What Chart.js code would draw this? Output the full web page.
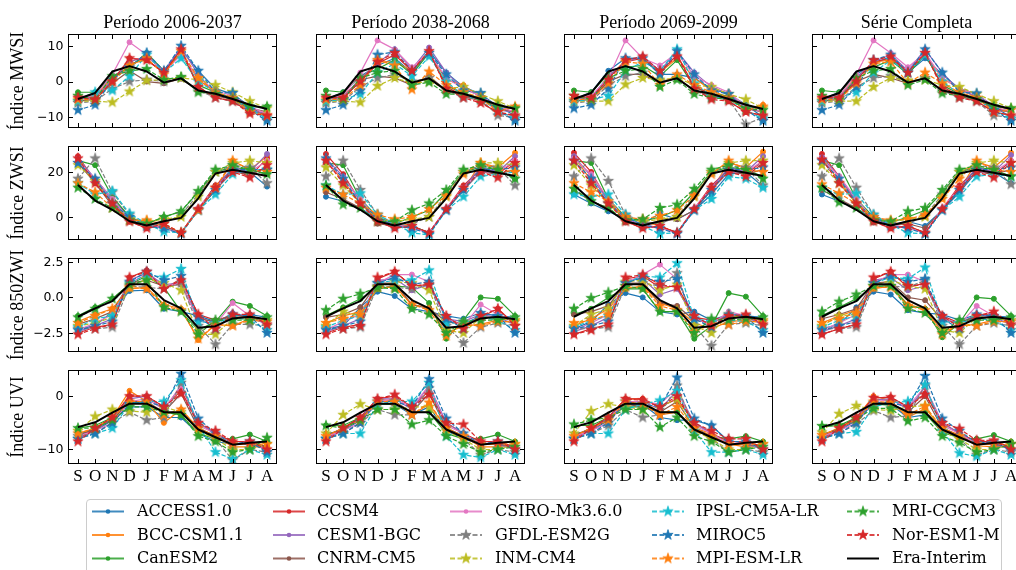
<!DOCTYPE html>
<html><head><meta charset="utf-8">
<script src="https://cdn.jsdelivr.net/npm/chart.js@4.4.1/dist/chart.umd.min.js"></script>
<style>
html,body{margin:0;padding:0;width:1016px;height:570px;overflow:hidden;background:#fff;position:relative;}
canvas.p{position:absolute;left:0;top:0;}
.ttl{position:absolute;width:300px;text-align:center;font-family:"Liberation Serif","Times New Roman",serif;font-size:18px;line-height:18px;color:#000;white-space:nowrap;}
.yl{position:absolute;width:200px;text-align:center;font-family:"Liberation Serif","Times New Roman",serif;font-size:18px;line-height:18px;color:#000;white-space:nowrap;transform:rotate(-90deg);transform-origin:50% 50%;}
#legbox{position:absolute;left:86px;top:499px;width:916px;height:90px;border:1px solid #cccccc;border-radius:4px;background:rgba(255,255,255,0.8);box-sizing:border-box;}
.lt{position:absolute;font-family:"DejaVu Serif",serif;font-size:16px;line-height:18px;color:#000;white-space:nowrap;}
</style></head><body>
<script>
// ---------------- DATA ----------------
const MONTHS = ['S','O','N','D','J','F','M','A','M','J','J','A'];
const TITLES = ['Período 2006-2037','Período 2038-2068','Período 2069-2099','Série Completa'];
const YLABELS = ['Índice MWSI','Índice ZWSI','Índice 850ZWI','Índice UVI'];
const MODELS = ['ACCESS1.0','BCC-CSM1.1','CanESM2','CCSM4','CESM1-BGC','CNRM-CM5','CSIRO-Mk3.6.0','GFDL-ESM2G','INM-CM4','IPSL-CM5A-LR','MIROC5','MPI-ESM-LR','MRI-CGCM3','Nor-ESM1-M'];
const OBS_NAME = 'Era-Interim';

const YTICKS_MWSI = [-10, 0, 10];
const YTICKS_ZWSI = [0, 20];
const YTICKS_850 = [-2.5, 0, 2.5];
const YTICKS_UVI = [-10, 0];
const YTICKLABELS_MWSI = ['\u221210', '0', '10'];
const YTICKLABELS_ZWSI = ['0', '20'];
const YTICKLABELS_850 = ['\u22122.5', '0.0', '2.5'];
const YTICKLABELS_UVI = ['\u221210', '0'];
const YRANGE_MWSI = [-12.85, 13.15];
const YRANGE_ZWSI = [-10, 31.3];
const YRANGE_850 = [-3.8, 2.73];
const YRANGE_UVI = [-12.63, 4.82];

const ERA_MWSI = [-4.9,-3.2,2.8,4.3,2.8,-0.3,0.9,-2.5,-3.4,-4.9,-6.5,-7.7];
const ERA_ZWSI = [14.2,7.3,3.2,-1.9,-3.8,-1.9,-0.4,8.3,19.3,21,19.6,18.2];
const ERA_850 = [-1.36,-0.77,-0.26,0.92,0.92,-0.19,-0.77,-2.14,-2.02,-1.48,-1.36,-1.53];
const ERA_UVI = [-5.8,-4.9,-3.1,-1.4,-1.4,-3.0,-3.0,-6.25,-7.7,-9.1,-8.75,-8.5];

const MWSI_P1 = [
[-5,-3,1,4,7.5,3,9,3,-2,-3.5,-7,-10],
[-4.5,-4,1,5,6,2.5,8,0.5,-3,-5,-8,-9],
[-3,-3,1.5,4,8,3,8,-1,-3,-4.5,-7,-7],
[-4,-4.5,0,6.5,6,2.5,9,-1.5,-4.5,-5.5,-8.5,-9],
[-5,-4.5,0.5,5.5,7,3,9.5,2,-3.5,-4.5,-8,-9],
[-5.5,-5,-0.5,3,0,-0.5,0.8,-2.5,-4,-5,-7.5,-8.5],
[-4.5,-4,2,11,7.5,2.5,7.5,1,-2.5,-4,-7,-9],
[-6,-5.5,-2,0,0.5,0,1,-2.5,-4.5,-5.5,-8,-10],
[-5.5,-5.5,-5.8,-2.8,0.3,0.5,1,0.5,-1,-3,-5.5,-7.5],
[-5.5,-3,-2.5,1.5,7.5,2.5,6.5,0,-3,-5,-7.5,-10.5],
[-8,-6.5,0.5,4,8,3,10,3,-3,-3.2,-8,-11],
[-5,-5,0,4.5,6.5,2,8.5,1,-3,-4.5,-8.5,-9.5],
[-4,-5,1.5,3,3.5,0.5,1.3,-3,-3.5,-5,-7,-7],
[-4.5,-5,0,6.5,6,2.5,9,-1.5,-4.5,-5.5,-9,-9.5]];
const MWSI_P2 = [
[-5,-3,1.5,4.5,6.5,2.5,8.5,2.5,-1.5,-3.5,-7,-9.5],
[-4.5,-4,0.5,5.5,5.5,3,8,0.5,-1,-4.5,-8,-7],
[-2.5,-3,1.5,3.5,6,2,8,-1,-3.5,-4.5,-7,-7.5],
[-4.5,-4.5,0,5,7.5,3,8.5,-1.5,-4,-5.5,-9,-9.5],
[-5,-4.5,1,5,9,3.5,9.5,2.5,-2,-4,-8,-8.5],
[-5.5,-5,0.5,1.5,1,-1,1.5,-2.5,-4,-5,-7.5,-8.5],
[-4.5,-4,2.5,11.5,9,4,8,1,-2,-4,-7,-8.5],
[-6,-5.5,-1.5,1,2,0,1,-2.5,-4.5,-5,-9.5,-10],
[-5.5,-5.5,-5.8,-1.2,1,-0.5,0,-2,-1.5,-3.5,-5.5,-7.5],
[-5.5,-5,-3.5,2.5,5,1.5,7,0,-4,-5,-8,-10.5],
[-8,-6.5,-2.5,7.5,8.3,3,8,2,-2.5,-3.2,-8,-11],
[-5,-5,-1,6,4.5,-2.2,2.8,-1,-3,-4.5,-8.5,-7],
[-4,-5,1,2.5,3,-1,-0.2,-3.5,-3.5,-5,-7,-7.5],
[-4.5,-4.5,0,5.5,8,3,8.5,-2,-4.5,-6,-8.5,-9.5]];
const MWSI_P3 = [
[-5,-3,3,6.5,6.5,2,2,1,-2,-3.5,-6.5,-10],
[-4.5,-4.5,1,6,6.5,2.5,6.5,1,-2.5,-4.5,-8,-6.5],
[-2.5,-3,2,4,4.5,1.5,6,-1.5,-3.5,-4,-7,-7.5],
[-4,-4.5,1,5.5,6.5,2.5,7.5,-1.5,-3.5,-5.5,-8.5,-9.5],
[-5,-4.5,1.5,5.5,7,3,8.5,2.5,-1.5,-3.5,-7.5,-8.5],
[-5.5,-5,0,2,2,-0.5,1,-2.5,-4,-5,-7.5,-8.5],
[-4.5,-4,1,11.5,6.5,4.5,8,1.5,-1,-3,-7,-8.5],
[-6,-5.5,-1,1.5,2.5,0,1,-2.5,-4.5,-5,-12,-10],
[-5.5,-5.5,-5.5,-0.8,1,0.5,1,-1,-1.5,-3.5,-5,-7.5],
[-5.5,-5,-4,3,5.5,3,9,-0.5,-4,-5,-8,-10.5],
[-7.5,-6.5,-2,6.5,6.5,2,8.5,2,-2.5,-3.5,-8,-11],
[-5,-5,-0.5,5.5,5,-1,2,-1,-3,-4.5,-8,-7],
[-4,-5,1,3,3.5,-1.5,0.5,-3.5,-4.5,-5,-7.5,-8],
[-4,-4.5,0.5,6,7,3,7,-2,-5,-5.5,-8.5,-9.5]];
const MWSI_ALL = [
[-5,-3,2,5,7,2.5,6.5,2,-2,-3.5,-7,-10],
[-4.5,-4,1,5.5,6,2.5,7.5,1,-2,-4.5,-8,-7.5],
[-2.5,-3,1.5,4,6,2,7.5,-1,-3.5,-4.5,-7,-7.5],
[-4,-4.5,0.5,5.5,6.5,2.5,8.5,-1.5,-4,-5.5,-8.5,-9.5],
[-5,-4.5,1,5.5,7.5,3,9,2.5,-2.5,-4,-8,-8.5],
[-5.5,-5,0,2,1,-0.5,1,-2.5,-4,-5,-7.5,-8.5],
[-4.5,-4,2,11.5,8,4,8,1,-2,-3.5,-7,-8.5],
[-6,-5.5,-1.5,1,1.5,0,1,-2.5,-4.5,-5.5,-9.5,-10],
[-5.5,-5.5,-5.5,-1.5,1,0.3,0.5,-1,-1.5,-3.5,-5.5,-7.5],
[-5.5,-4.5,-3,2.5,6,2.5,7.5,0,-3.5,-5,-8,-10.5],
[-8,-6.5,-1.5,6,7.5,2.5,9,2.5,-3,-3.3,-8,-11],
[-5,-5,-0.5,5,5.5,-0.5,2.5,-0.5,-3,-4.5,-8.5,-8],
[-4,-5,1,3,3.5,-1,0.5,-3.3,-4,-5,-7,-7.5],
[-4.5,-4.5,0,6,7,2.5,8,-2,-4.5,-5.5,-8.5,-9.5]];

const ZWSI_P1 = [
[24,17,8,0,-4,-5,-7,3,14,20,20,13.5],
[26,16,6,-1,-2,-4,-7,4,12,25,21,27],
[25,23,9,0,-3,0,2.5,11,20,22,21,19],
[27,16,6,-2,-5,-4,-7,3.5,14,21,18,26],
[26,17,7,-1,-4,-5,-7,3,13,22,20,28],
[24,15,5,-2,-4,-4,-7,3,12,20,19,22],
[25,17,8,-1,-3,-5,-7,4,13,20,20,25],
[17,26,11,1,-4,-3,1,10,20,23,22,15],
[23,16,6,-1,-2,-1,0,9,20,24,25,24],
[15,10,11.5,1.5,-3,-6.5,-7,3,10,19,21,21],
[24,17,6,0,-4,-5,-7.5,3,12,21,21,21],
[15,11,4,-1.5,-1.5,-3,-7,3,13,25,21,20],
[13,8,4,-1.5,-3,0,2.5,11.5,21,23,21,19],
[26,15,6,-2,-5,-3,-7,3.5,13,20,17.5,23]];
const ZWSI_P2 = [
[9,7,4,-1,-4,-4,-7,3,12,20,21,17],
[25,16,6,-1,-2,-4,-7,3.5,12,24,22,28.5],
[24,23,8,0,-3,0,3,11,20,22,21,17],
[28,19,7,-2,-5,-4,-7,3.5,14,21,19,25],
[26,18,7,-1,-4,-5,-7,3,13,22,20,27],
[11,8,4,-3,-4,-4,-7,3,12,20,19,21],
[25,17,8,-1,-3,-5,-7,4,13,20,20,25],
[18,25,12,1,-3,-3,0,10,20,23,22,14],
[22,14,6,-1,-2,-1,0,9,20,24,24,23],
[14,10,10.5,1,-3,-7,-8,3,9,18,19,20],
[26,17,6,0,-4,-5,-7.5,3,12,21,21,22],
[13,10,6,1,-1,0,3.5,9.5,19,24,21,20],
[14,5.5,4,-2,-2,3,6,12,21,23,21,17],
[25,15,6,-2,-5,-4,-7,3.5,13,20,17.5,24]];
const ZWSI_P3 = [
[10,6,2.5,-1,-3,1.5,-1,3,10,19,20,13.5],
[27,16,6,-1,-2,-4,-7,3.5,12,24,22,29],
[25,24,8,0,-2,0,3,11,20,22,21,18],
[28.5,20,7,-2,-5,-4,-7,3.5,14,21,19,25],
[27,18,7,-1,-4,-5,-7,3,13,22,20,27],
[12,7,4,-2.5,-3,-2,-1,3,12,20,19,21],
[26,19,8,-1,-3,-5,-7,4,13,20,20,25],
[18,26,16,1,-2,-3,0,10,20,23,22,14],
[23,14,6,-1,-2,-1,0,9,20,24,25,25],
[10,9,10,1,-4,-7.5,-7,3,8,18,17,13],
[25,17,6,0,-3.5,-5,-7.5,3,12,21,21,22],
[15,11,7,0,-1,0.5,3,9.5,19,25,21,20],
[12.5,7,4,-1.5,-1,4,5.5,12.5,21,23,21,17],
[25,15,6,-2,-5,-4,-7,3.5,13,20,18,24]];
const ZWSI_ALL = [
[10,7,4,-1,-3.5,-2,-4,3,11,20,20,15],
[26,16,6,-1,-2,-4,-7,3.5,12,24.5,22,28.5],
[25,23,8,0,-2.5,0,3,11,20,22,21,18],
[28,18,6.5,-2,-5,-4,-7,3.5,14,21,18.5,25],
[26.5,18,7,-1,-4,-5,-7,3,13,22,20,27.5],
[12,8,4,-2.5,-3.5,-3,-5,3,12,20,19,21],
[25.5,18,8,-1,-3,-5,-7,4,13,20,20,25],
[18,26,13,1,-3,-3,0.5,10,20,23,22,14.5],
[23,15,6,-1,-2,-1,0,9,20,24,25,24],
[13,10,10.5,1,-3.5,-7,-7.5,3,9,18,19,18],
[25,17,6,0,-4,-5,-7.5,3,12,21,21,22],
[14.5,10.5,6,0,-1.5,-1,1,8,17,25,21,20],
[13,6.5,4,-1.5,-2,2.5,4,12,21,23,21,18],
[25.5,15,6,-2,-5,-4,-7,3.5,13,20,17.5,24]];

const Z850_P1 = [
[-2.2,-2.0,-1.0,0.45,0.5,-0.8,-1.0,-1.3,-1.7,-1.3,-1.2,-1.4],
[-1.7,-1.2,-0.8,0.6,0.7,-0.5,-0.8,-3.0,-1.9,-2.0,-1.5,-1.8],
[-1.3,-0.7,-0.1,0.9,1.5,0.7,-1.0,-2.3,-1.7,-0.3,-0.6,-1.3],
[-2.5,-2.1,-1.9,1.4,1.9,0.6,1.3,-1.2,-1.6,-1.3,-1.3,-1.8],
[-2.4,-2.0,-1.5,1.2,1.7,0.9,1.0,-1.4,-1.8,-1.1,-1.4,-1.9],
[-1.9,-1.5,-1.0,1.0,1.2,0.8,0.9,-1.5,-1.7,-1.2,-1.4,-1.6],
[-2.3,-1.8,-1.2,1.0,1.6,0.8,1.0,-1.6,-1.9,-0.4,-1.3,-1.7],
[-2.2,-2.2,-2.1,0.8,0.7,0.6,1.0,-2.0,-3.3,-1.9,-1.9,-2.0],
[-2.0,-1.8,-1.4,0.7,1.3,1.0,0.5,-2.6,-2.6,-1.5,-1.5,-1.6],
[-2.1,-1.5,-1.3,1.0,1.6,1.4,2.0,-1.7,-1.8,-1.4,-1.6,-2.3],
[-2.3,-2.0,-1.7,1.1,1.8,1.2,1.5,-1.4,-2.2,-1.2,-1.3,-2.5],
[-1.8,-1.3,-0.8,0.7,0.6,-0.6,-0.9,-2.9,-1.9,-2.0,-1.6,-1.7],
[-1.4,-0.8,-0.1,0.9,1.2,-0.7,-1.0,-2.6,-1.6,-1.6,-1.6,-1.4],
[-2.6,-2.2,-1.9,1.4,1.8,0.6,1.2,-1.2,-2.2,-1.2,-1.2,-1.9]];
const Z850_P2 = [
[-2.2,-2.0,-0.7,0.4,0.1,-0.8,-1.0,-1.3,-1.5,-1.1,-1.3,-1.4],
[-1.8,-1.3,-1.0,0.6,0.8,-0.5,-0.7,-2.5,-2.0,-1.9,-1.6,-1.8],
[-1.3,-0.7,-0.1,0.6,0.8,0.7,-0.4,-2.9,-1.6,0.0,-0.1,-1.3],
[-2.5,-2.1,-1.9,1.3,1.8,0.8,0.9,-1.4,-2.0,-1.4,-0.8,-1.9],
[-2.4,-2.0,-1.5,1.2,1.3,0.5,0.9,-1.5,-1.7,-1.2,-1.4,-1.9],
[-1.4,-1.2,-0.7,1.0,1.0,-0.5,-0.8,-1.7,-1.9,-1.3,-1.5,-1.6],
[-2.3,-1.7,-1.2,1.0,1.6,1.6,1.1,-1.5,-2.0,-0.5,-1.2,-1.7],
[-2.2,-2.2,-2.1,0.8,0.7,0.6,0.9,-2.0,-3.2,-2.1,-1.8,-2.0],
[-2.0,-1.0,-1.3,0.7,1.1,1.0,0.5,-2.3,-2.5,-1.4,-1.5,-1.6],
[-2.1,-1.6,-1.3,1.0,1.2,1.2,1.9,-1.8,-1.8,-1.4,-1.6,-2.3],
[-2.3,-2.0,-1.7,1.0,1.4,0.9,1.1,-1.5,-2.2,-1.1,-1.3,-2.5],
[-1.8,-1.5,-1.2,0.7,0.7,-0.5,-0.9,-2.7,-1.9,-2.0,-1.7,-1.7],
[-0.9,-0.1,0.25,0.7,0.6,-0.8,-1.2,-2.5,-1.7,-1.6,-1.6,-1.4],
[-2.6,-2.2,-2.0,1.4,1.8,0.8,0.9,-1.3,-2.2,-1.3,-0.8,-2.0]];
const Z850_P3 = [
[-2.2,-1.7,-0.5,0.3,0.0,-1.0,-1.2,-1.0,-1.6,-1.2,-1.3,-1.4],
[-2.0,-1.5,-0.8,0.6,0.8,-0.4,-0.8,-1.8,-2.2,-1.7,-1.6,-1.8],
[-1.2,-0.8,0.0,0.6,0.6,-1.0,-1.0,-2.9,-2.0,0.3,0.05,-1.3],
[-2.6,-2.2,-1.9,1.3,1.5,0.7,0.8,-1.4,-1.6,-1.3,-1.3,-1.9],
[-2.4,-2.0,-1.4,1.2,1.3,0.2,0.6,-1.5,-1.8,-1.2,-1.4,-1.9],
[-1.2,-1.0,-0.6,1.0,1.0,-0.4,-0.6,-1.6,-1.8,-1.3,-1.5,-1.6],
[-2.3,-1.8,-1.2,1.0,1.6,2.3,1.3,-1.5,-1.9,-1.0,-1.3,-1.7],
[-2.2,-2.2,-2.1,0.8,1.0,0.8,1.7,-2.0,-3.4,-1.9,-1.8,-2.0],
[-2.0,-1.2,-0.8,1.1,1.2,0.5,0.9,-2.0,-2.5,-1.2,-1.5,-1.6],
[-2.1,-1.6,-1.3,1.0,1.5,1.4,2.4,-1.5,-1.7,-1.6,-1.7,-2.3],
[-2.2,-2.0,-1.7,1.0,1.4,1.1,1.3,-1.5,-2.1,-1.2,-1.3,-2.5],
[-1.8,-1.6,-1.2,0.7,0.7,-0.6,-0.9,-2.4,-1.9,-1.9,-1.7,-1.7],
[-0.8,-0.05,0.35,0.8,0.6,-1.0,-1.0,-2.5,-1.5,-1.6,-1.5,-1.4],
[-2.6,-2.3,-1.9,1.4,1.6,0.9,0.7,-1.3,-2.0,-1.3,-1.2,-1.9]];
const Z850_ALL = [
[-2.2,-1.9,-0.7,0.4,0.2,-0.9,-1.1,-1.2,-1.6,-1.2,-1.3,-1.4],
[-1.8,-1.3,-0.9,0.6,0.8,-0.5,-0.8,-2.4,-2.0,-1.9,-1.6,-1.8],
[-1.3,-0.7,-0.1,0.7,0.9,-0.6,-0.8,-2.8,-1.8,0.0,-0.1,-1.3],
[-2.6,-2.2,-1.9,1.3,1.8,0.7,1.0,-1.3,-1.8,-1.3,-1.1,-1.9],
[-2.4,-2.0,-1.5,1.2,1.4,0.5,0.8,-1.5,-1.8,-1.2,-1.4,-1.9],
[-1.5,-1.2,-0.8,1.0,1.1,0.0,-0.2,-1.6,-1.8,-1.3,-1.5,-1.6],
[-2.3,-1.8,-1.2,1.0,1.6,1.6,1.1,-1.5,-1.9,-0.6,-1.3,-1.7],
[-2.2,-2.2,-2.1,0.8,0.8,0.7,1.2,-2.0,-3.3,-2.0,-1.8,-2.0],
[-2.0,-1.3,-1.2,0.8,1.2,0.8,0.6,-2.3,-2.5,-1.4,-1.5,-1.6],
[-2.1,-1.6,-1.3,1.0,1.4,1.3,2.1,-1.7,-1.8,-1.5,-1.6,-2.3],
[-2.3,-2.0,-1.7,1.0,1.5,1.1,1.3,-1.5,-2.2,-1.2,-1.3,-2.5],
[-1.8,-1.5,-1.1,0.7,0.7,-0.6,-0.9,-2.6,-1.9,-2.0,-1.7,-1.7],
[-1.0,-0.3,0.2,0.8,0.8,-0.8,-1.1,-2.5,-1.6,-1.6,-1.6,-1.4],
[-2.6,-2.2,-1.9,1.4,1.8,0.8,0.9,-1.3,-2.1,-1.3,-1.0,-1.9]];

const UVI_P1 = [
[-7,-6.5,-4.5,-2,-2,-4,-4,-7,-8.5,-9,-9,-10],
[-7,-6,-4,1,-1,-5,-2.5,-6,-7.5,-9.5,-9.5,-9.5],
[-6,-5.5,-4,-1,-1.5,-3,-3.5,-7,-8,-8,-7.2,-8.5],
[-8,-6,-4,0,0,-2,1,-5,-7,-8.5,-8.5,-9.5],
[-8,-6.5,-4,-0.5,0,-2.5,2,-5,-7,-9,-9,-10],
[-7.5,-6,-4.5,-1,-1,-3,0.5,-6,-7.5,-9,-9,-9.5],
[-7.5,-6.5,-5,-1,-0.5,-2.5,2,-5.5,-7,-9,-8.5,-10],
[-7.5,-7,-5,-3,-4.5,-4,2.5,-6,-8,-12,-10,-10.5],
[-6.5,-3.8,-2.5,-2.8,-3,-2,-3,-6.5,-8,-10,-10,-9],
[-8,-7,-6,-1.5,-1,-1,3,-5.5,-10.5,-11.8,-10,-11],
[-8,-7,-5,-1.5,-1,-2,4.2,-4.2,-7,-9,-8.5,-10.5],
[-7,-6,-4,-1,-1,-3.5,-2.5,-6,-7.5,-9,-9,-9],
[-6,-6,-4.5,-2,-2,-3,-3.5,-7.5,-8.5,-10.5,-10,-7.8],
[-8.5,-6,-4,0,0,-2,0.5,-5,-6.5,-8.5,-8.5,-10]];
const UVI_P2 = [
[-7,-6.5,-4.5,-1.5,-1.5,-3.5,-2,-6.5,-8,-9,-9,-9.5],
[-7.5,-6,-4,-0.5,-1,-3.5,-1.5,-6,-7.5,-9.5,-9.5,-9.5],
[-5.5,-5.5,-4,-1.5,-1.5,-3,-3,-7,-8,-8,-7.2,-8.5],
[-8,-6,-4,-0.5,0,-2,1,-5,-7,-8.5,-8.5,-9.5],
[-8,-6.5,-4,-0.5,-0.5,-2.5,2,-5,-7,-9,-9,-10],
[-7.5,-6,-4.5,-1,-1,-3,0.5,-6,-7.5,-9,-9,-9.5],
[-7.5,-6.5,-5,-1,-0.5,-2,2,-5.5,-7,-9,-8.5,-10],
[-8,-7,-5,-2.5,-3.5,-3.5,1.5,-6,-8,-11,-10,-10.5],
[-7,-3.5,-1.5,-2.5,-2.5,-2,-2,-6.5,-8,-10,-10,-9],
[-8,-7,-7,-1.5,-1,-1,2.5,-7.5,-11,-11.5,-10,-11],
[-8,-7,-5,-1,-1,-2,3.2,-4.2,-7,-9,-8.5,-10],
[-7.5,-6,-4.5,-1,-1,-3.5,-1.2,-6,-7.5,-9,-9,-9],
[-5.5,-6,-4.5,-2.5,-2.5,-5.3,-4.5,-7.5,-9,-10.5,-10,-9.5],
[-8.5,-6,-4,-0.5,0.3,-2,0.3,-5,-5.3,-8.5,-8.5,-10]];
const UVI_P3 = [
[-7,-6.5,-4.5,-1.5,-1.5,-4,-4.5,-4.5,-5.5,-8.5,-8.5,-9.5],
[-7.5,-6,-4,-0.5,-0.5,-3.5,-3,-6,-7,-9,-9.5,-9],
[-5.5,-5.5,-4,-2,-2,-3,-3,-6.5,-7.5,-8,-7.5,-8.5],
[-8,-6,-4,-0.5,-0.5,-2,-0.5,-5,-7,-8.5,-8.5,-9.5],
[-8,-6.5,-4,-1,-1,-2.5,1,-5,-7,-9,-9,-10],
[-7.5,-6,-4.5,-1.5,-2,-3,-1,-6,-7.5,-9,-9,-9.5],
[-7.5,-6.5,-5,-1,-1,-1.5,1.5,-5.5,-7,-9,-8.5,-10],
[-8,-7,-5.5,-2.5,-4,-3.5,2,-6,-8,-10.5,-10,-10.5],
[-7,-2.8,-1.5,-2,-2.5,-2,-0.5,-6.5,-8,-10,-10,-9],
[-8,-7,-7,-2.5,-1.5,-0.8,1,-6.5,-10.5,-10.5,-10,-11],
[-8,-7,-5,-1,-1.5,-2,3.5,-4.2,-5.5,-8.5,-8.5,-10],
[-7.5,-6,-4.5,-1,-1.5,-3.5,-2,-6,-7.5,-9,-9,-9],
[-5.3,-4.5,-4,-2.5,-2.5,-5.8,-4,-7.5,-8.5,-10.5,-10,-9.5],
[-8.5,-6,-4,-0.5,-0.8,-2,0,-5,-6.5,-8,-8,-10]];
const UVI_ALL = [
[-7,-6.5,-4.5,-1.5,-1.5,-4,-3.5,-6,-7.5,-9,-9,-9.5],
[-7.3,-6,-4,0,-0.8,-4,-2.3,-6,-7.3,-9.3,-9.5,-9.3],
[-5.7,-5.5,-4,-1.5,-1.7,-3,-3.2,-6.8,-7.8,-8,-7.3,-8.5],
[-8,-6,-4,-0.3,-0.2,-2,0.5,-5,-7,-8.5,-8.5,-9.5],
[-8,-6.5,-4,-0.7,-0.5,-2.5,1.7,-5,-7,-9,-9,-10],
[-7.5,-6,-4.5,-1.2,-1.3,-3,0,-6,-7.5,-9,-9,-9.5],
[-7.5,-6.5,-5,-1,-0.7,-2,1.8,-5.5,-7,-9,-8.5,-10],
[-7.8,-7,-5.2,-2.7,-4,-3.7,2,-6,-8,-11,-10,-10.5],
[-6.8,-3.3,-1.8,-2.5,-2.7,-2,-1.8,-6.5,-8,-10,-10,-9],
[-8,-7,-6.7,-2,-1.2,-1,2.2,-6.5,-10.7,-11.3,-10,-11],
[-8,-7,-5,-1.2,-1.2,-2,3.8,-4.2,-6.5,-8.8,-8.5,-10.2],
[-7.3,-6,-4.3,-1,-1.2,-3.5,-1.9,-6,-7.5,-9,-9,-9],
[-5.6,-5.5,-4.3,-2.3,-2.3,-4.7,-4,-7.5,-8.7,-10.5,-10,-9],
[-8.5,-6,-4,-0.3,-0.2,-2,0.3,-5,-6.1,-8.3,-8.3,-10]];

// ---------------- STYLE ----------------
const COLORS = ['#1f77b4','#ff7f0e','#2ca02c','#d62728','#9467bd','#8c564b','#e377c2','#7f7f7f','#bcbd22','#17becf','#1f77b4','#ff7f0e','#2ca02c','#d62728'];
const IS_STAR = [false,false,false,false,false,false,false,true,true,true,true,true,true,true];
const COL_X = [68.5, 316.5, 564.5, 812.5];
const ROW_Y = [34.5, 146.5, 258.5, 370.5];
const PW = 208, PH = 93;
const CW = 1040, CH = 570;

const ROWS = [
  {panels:[MWSI_P1,MWSI_P2,MWSI_P3,MWSI_ALL], era:ERA_MWSI, range:YRANGE_MWSI, ticks:YTICKS_MWSI, tlabels:YTICKLABELS_MWSI},
  {panels:[ZWSI_P1,ZWSI_P2,ZWSI_P3,ZWSI_ALL], era:ERA_ZWSI, range:YRANGE_ZWSI, ticks:YTICKS_ZWSI, tlabels:YTICKLABELS_ZWSI},
  {panels:[Z850_P1,Z850_P2,Z850_P3,Z850_ALL], era:ERA_850, range:YRANGE_850, ticks:YTICKS_850, tlabels:YTICKLABELS_850},
  {panels:[UVI_P1,UVI_P2,UVI_P3,UVI_ALL], era:ERA_UVI, range:YRANGE_UVI, ticks:YTICKS_UVI, tlabels:YTICKLABELS_UVI}
];

function starImage(color, R){
  const s = Math.ceil(2*R + 3);
  const c = document.createElement('canvas');
  c.width = s; c.height = s;
  const g = c.getContext('2d');
  g.translate(s/2, s/2);
  g.beginPath();
  for (let k = 0; k < 10; k++){
    const r = (k % 2 === 0) ? R : R*0.382;
    const a = -Math.PI/2 + k*Math.PI/5;
    if (k === 0) g.moveTo(r*Math.cos(a), r*Math.sin(a)); else g.lineTo(r*Math.cos(a), r*Math.sin(a));
  }
  g.closePath();
  g.fillStyle = color; g.fill();
  g.lineWidth = 0.8; g.strokeStyle = color; g.lineJoin = 'miter'; g.stroke();
  return c;
}
const STARS = COLORS.map(c => starImage(c, 5.4));

function framePlugin(rowInfo, showY, showX){
  return {
    id: 'frame',
    afterDraw(chart){
      const ctx = chart.ctx, a = chart.chartArea;
      const xs = chart.scales.x, ys = chart.scales.y;
      ctx.save();
      ctx.strokeStyle = '#000'; ctx.lineWidth = 1;
      ctx.strokeRect(a.left, a.top, a.right - a.left, a.bottom - a.top);
      ctx.beginPath();
      for (let i = 0; i < MONTHS.length; i++){
        const px = Math.round(xs.getPixelForValue(i)) + 0.5;
        ctx.moveTo(px, a.bottom); ctx.lineTo(px, a.bottom - 4.5);
        ctx.moveTo(px, a.top); ctx.lineTo(px, a.top + 4.5);
      }
      rowInfo.ticks.forEach(v => {
        const py = Math.round(ys.getPixelForValue(v)) + 0.5;
        ctx.moveTo(a.left, py); ctx.lineTo(a.left + 4.5, py);
        ctx.moveTo(a.right, py); ctx.lineTo(a.right - 4.5, py);
      });
      ctx.stroke();
      ctx.fillStyle = '#000';
      if (showY){
        ctx.font = '12.5px "DejaVu Sans"';
        ctx.textAlign = 'right'; ctx.textBaseline = 'middle';
        rowInfo.ticks.forEach((v, k) => {
          ctx.fillText(rowInfo.tlabels[k], a.left - 5, ys.getPixelForValue(v) + 0.5);
        });
      }
      if (showX){
        ctx.font = '17px "Liberation Serif"';
        ctx.textAlign = 'center'; ctx.textBaseline = 'alphabetic';
        MONTHS.forEach((m, i) => ctx.fillText(m, xs.getPixelForValue(i), a.bottom + 17));
      }
      ctx.restore();
    }
  };
}

function makeChart(r, c){
  const row = ROWS[r];
  const vals = row.panels[c];
  const cv = document.createElement('canvas');
  cv.className = 'p'; cv.width = CW; cv.height = CH;
  cv.style.width = CW + 'px'; cv.style.height = CH + 'px';
  document.body.appendChild(cv);
  const datasets = MODELS.map((name, i) => ({
    label: name,
    data: vals[i].map((v, k) => ({x: k, y: v})),
    borderColor: COLORS[i],
    backgroundColor: COLORS[i],
    borderWidth: 1.2,
    borderDash: IS_STAR[i] ? [4.4, 1.9] : [],
    borderJoinStyle: 'round',
    pointStyle: IS_STAR[i] ? STARS[i] : 'circle',
    pointRadius: IS_STAR[i] ? 5 : 2.5,
    pointBorderWidth: IS_STAR[i] ? 0 : 1,
    pointBorderColor: COLORS[i],
    pointBackgroundColor: COLORS[i],
    tension: 0,
    clip: 0,
    order: 100 - i
  }));
  datasets.push({
    label: OBS_NAME,
    data: row.era.map((v, k) => ({x: k, y: v})),
    borderColor: '#000', backgroundColor: '#000',
    borderWidth: 2, borderJoinStyle: 'round',
    pointRadius: 0, tension: 0, clip: 0, order: 0
  });
  const x0 = COL_X[c], y0 = ROW_Y[r];
  new Chart(cv, {
    type: 'line',
    data: {datasets},
    options: {
      responsive: false, animation: false, events: [],
      layout: {padding: {left: x0, top: y0, right: CW - (x0 + PW), bottom: CH - (y0 + PH)}},
      scales: {
        x: {type: 'linear', min: -0.55, max: 11.55, display: false},
        y: {type: 'linear', min: row.range[0], max: row.range[1], display: false}
      },
      plugins: {legend: {display: false}, tooltip: {enabled: false}}
    },
    plugins: [framePlugin(row, c === 0, r === 3)]
  });
}

for (let r = 0; r < 4; r++) for (let c = 0; c < 4; c++) makeChart(r, c);

// titles and y labels
TITLES.forEach((t, c) => {
  const d = document.createElement('div'); d.className = 'ttl'; d.textContent = t;
  d.style.left = (COL_X[c] + PW/2 - 150) + 'px'; d.style.top = '13px';
  document.body.appendChild(d);
});
YLABELS.forEach((t, r) => {
  const d = document.createElement('div'); d.className = 'yl'; d.textContent = t;
  const cy = ROW_Y[r] + PH/2;
  d.style.left = (17 - 100) + 'px'; d.style.top = (cy - 9) + 'px';
  document.body.appendChild(d);
});

// legend
const lb = document.createElement('div'); lb.id = 'legbox'; document.body.appendChild(lb);
const lc = document.createElement('canvas'); lc.width = 1016; lc.height = 570;
lc.style.position = 'absolute'; lc.style.left = '0px'; lc.style.top = '0px';
document.body.appendChild(lc);
const lg = lc.getContext('2d');
const LEG_HX = [92, 273, 450, 652, 847];
const LEG_TX = [137, 317, 495, 696, 892];
const LEG_Y = [511.5, 535, 558.5];
const entries = MODELS.map((n, i) => ({name: n, i})).concat([{name: OBS_NAME, i: -1}]);
entries.forEach((e, k) => {
  const col = Math.floor(k / 3), rr = k % 3;
  const hx = LEG_HX[col], y = LEG_Y[rr];
  lg.save();
  if (e.i < 0){
    lg.strokeStyle = '#000'; lg.lineWidth = 2; lg.setLineDash([]);
    lg.beginPath(); lg.moveTo(hx, y); lg.lineTo(hx + 32, y); lg.stroke();
  } else {
    const col_ = COLORS[e.i];
    lg.strokeStyle = col_; lg.globalAlpha = 0.85; lg.lineWidth = 2;
    lg.setLineDash(IS_STAR[e.i] ? [5, 2.5] : []);
    lg.beginPath(); lg.moveTo(hx, y); lg.lineTo(hx + 32, y); lg.stroke();
    lg.globalAlpha = 1; lg.setLineDash([]);
    if (IS_STAR[e.i]){
      const s = STARS[e.i];
      lg.drawImage(s, hx + 16 - s.width/2, y - s.height/2);
    } else {
      lg.fillStyle = col_; lg.beginPath(); lg.arc(hx + 16, y, 2.3, 0, Math.PI*2); lg.fill();
    }
  }
  lg.restore();
  const t = document.createElement('div'); t.className = 'lt'; t.textContent = e.name;
  t.style.left = LEG_TX[col] + 'px'; t.style.top = (y - 9.5) + 'px';
  document.body.appendChild(t);
});
</script>
</body></html>
